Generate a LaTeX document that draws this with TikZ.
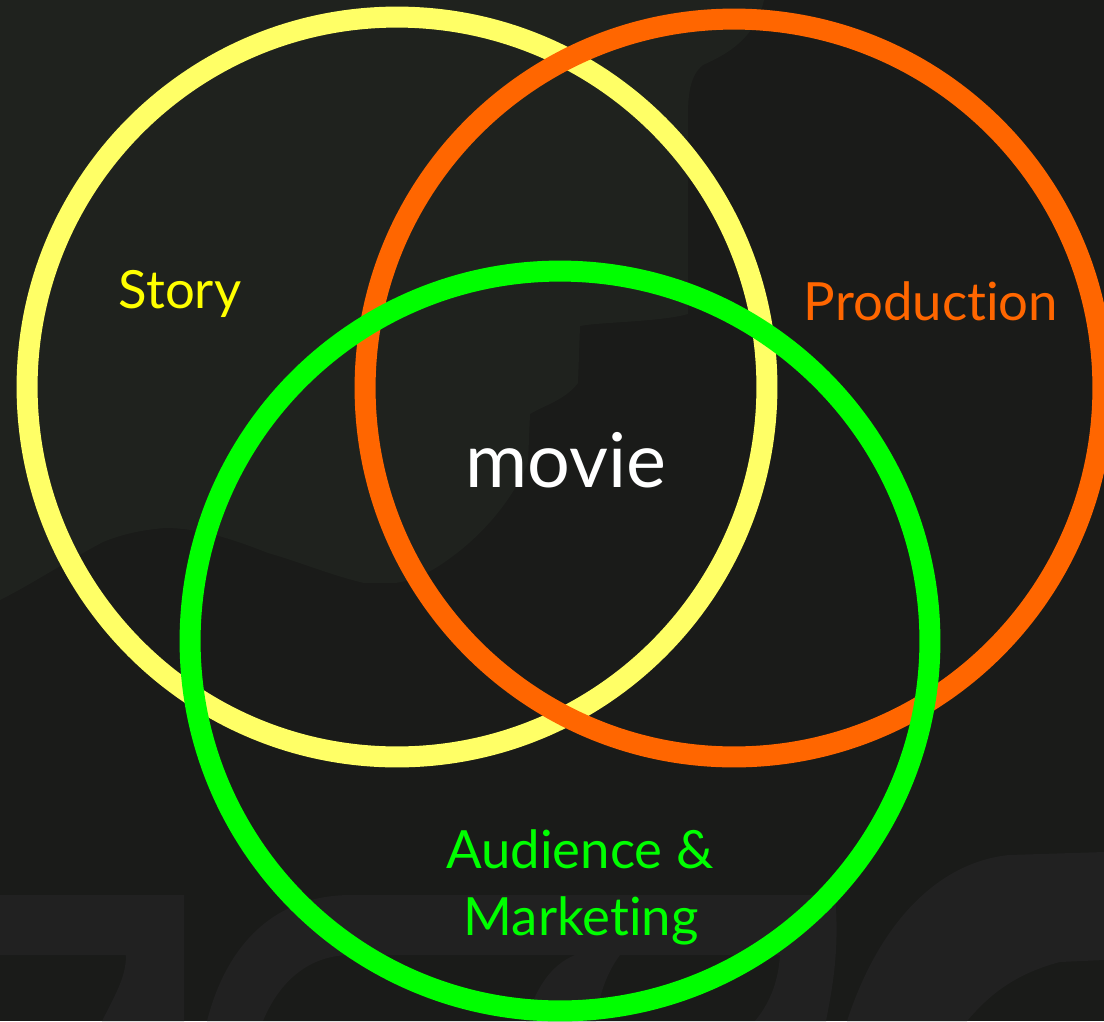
\documentclass[tikz,border=0pt]{standalone}
\usepackage{xcolor}
\definecolor{1a1b19}{HTML}{1a1b19}
\definecolor{1f221e}{HTML}{1f221e}
\definecolor{212121}{HTML}{212121}
\definecolor{ffff66}{HTML}{ffff66}
\definecolor{ffff00}{HTML}{ffff00}
\definecolor{ff6600}{HTML}{ff6600}
\definecolor{00ff00}{HTML}{00ff00}
\usepackage{tikz}
\usepackage{fontspec}
\setmainfont{Lato}[Ligatures=NoCommon]

\begin{document}
\begin{tikzpicture}[x=0.02cm, y=-0.02cm,
        ring/.style={line width=0.42cm},
        venntext/.style={anchor=base, font=\fontsize{30}{36}\selectfont}]
            \useasboundingbox (0, 0) rectangle (1104, 1021);
            \clip (0, 0) rectangle (1104, 1021);

            \fill[color=1a1b19] (0, 0) rectangle (1104, 1021);

            % faint shapes behind the circles
            \fill[color=1f221e] (0, 0) -- (764, 0)
                .. controls (755, 40) and (725, 55) .. (703, 65)
                .. controls (690, 75) and (688, 95) .. (688, 115)
                -- (688, 314) .. controls (660, 322) and (600, 322) .. (580, 326)
                -- (578, 383) .. controls (565, 400) and (545, 405) .. (530, 414)
                -- (528, 463) .. controls (510, 505) and (480, 535) .. (457, 553)
                .. controls (440, 566) and (420, 580) .. (395, 583)
                -- (364, 583) .. controls (330, 575) and (300, 562) .. (268, 553)
                .. controls (235, 540) and (200, 528) .. (165, 528)
                .. controls (140, 530) and (120, 535) .. (103, 542)
                .. controls (60, 565) and (30, 585) .. (0, 600) -- cycle;
            \fill[color=212121] (0, 895) -- (184, 895) -- (184, 1021) -- (102, 1021)
                .. controls (118, 990) and (126, 975) .. (126, 955) -- (0, 955) -- cycle;
            \fill[color=212121, even odd rule]
                (207, 1021) .. controls (225, 950) and (270, 895) .. (351, 895)
                -- (835, 895) .. controls (840, 950) and (832, 990) .. (826, 1021) -- cycle
                (263, 1021) .. controls (280, 980) and (310, 955) .. (351, 955)
                -- (780, 955) .. controls (778, 985) and (768, 1005) .. (755, 1021) -- cycle;
            \fill[color=212121] (526, 1021) .. controls (535, 990) and (550, 965) .. (575, 955)
                -- (620, 955) .. controls (605, 975) and (598, 1000) .. (596, 1021) -- cycle;
            \fill[color=212121] (847, 1021) .. controls (880, 920) and (940, 862) .. (1009, 855)
                -- (1104, 852) -- (1104, 960) -- (1060, 962)
                .. controls (1010, 975) and (985, 1000) .. (967, 1021) -- cycle;

            \coordinate (storycentre) at (397, 387);
            \coordinate (productioncentre) at (734, 388);
            \coordinate (audiencecentre) at (560, 641);

            \draw[ring, color=ffff66] (storycentre) circle [radius=7.4cm];
            \draw[ring, color=ff6600] (productioncentre) circle [radius=7.38cm];
            \draw[ring, color=00ff00] (audiencecentre) circle [radius=7.4cm];

            \node (story) at (180, 308) [venntext, color=ffff00] {Story};
            \node (production) at (931, 320) [venntext, color=ff6600] {Production};
            \node (movie) at (566, 487) [anchor=base, color=white, font=\fontsize{43}{50}\selectfont] {movie};
            \node (audience) at (580, 868) [venntext, color=00ff00] {Audience \&};
            \node (marketing) at (581, 935) [venntext, color=00ff00] {Marketing};
        \end{tikzpicture}
\end{document}
